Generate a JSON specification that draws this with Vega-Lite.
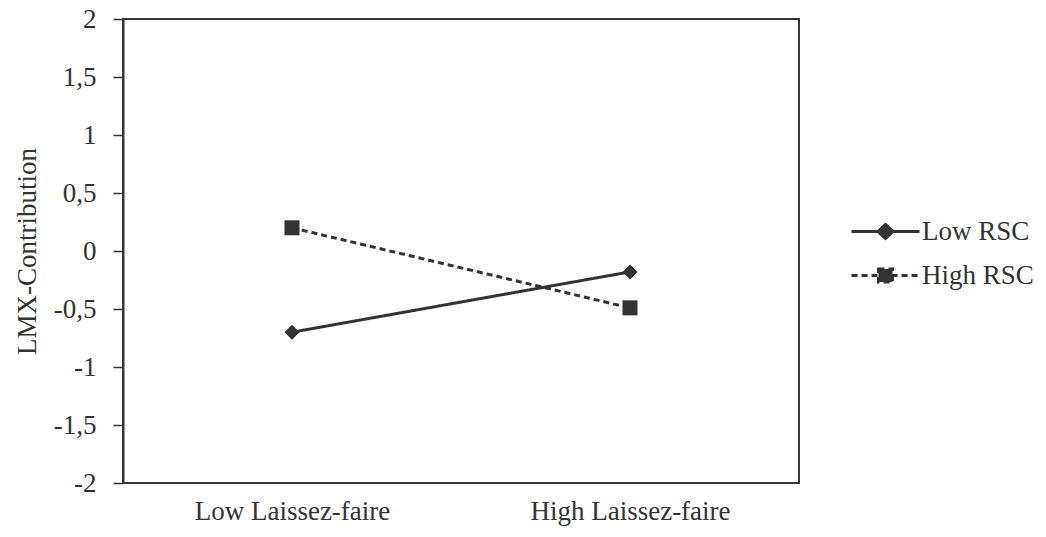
{
  "$schema": "https://vega.github.io/schema/vega-lite/v6.json",
  "width": 676,
  "height": 464,
  "autosize": {"type": "none"},
  "padding": {"left": 123, "top": 19, "right": 247, "bottom": 54},
  "background": "white",
  "config": {
    "font": "Liberation Serif",
    "view": {"stroke": "#363636", "strokeWidth": 2},
    "axis": {"grid": false, "labelFont": "Liberation Serif", "titleFont": "Liberation Serif", "labelColor": "#333", "titleColor": "#333", "labelLimit": 0}
  },
  "data": {
    "values": [
      {"laissez": "Low Laissez-faire", "rsc": "Low RSC", "value": -0.7},
      {"laissez": "High Laissez-faire", "rsc": "Low RSC", "value": -0.18},
      {"laissez": "Low Laissez-faire", "rsc": "High RSC", "value": 0.2},
      {"laissez": "High Laissez-faire", "rsc": "High RSC", "value": -0.49}
    ]
  },
  "encoding": {
    "x": {
      "field": "laissez",
      "type": "nominal",
      "scale": {"type": "point", "domain": ["Low Laissez-faire", "High Laissez-faire"], "padding": 0.5},
      "axis": {"title": null, "labelAngle": 0, "ticks": false, "domain": false, "labelFontSize": 27, "labelPadding": 15, "labelLimit": 0}
    },
    "y": {
      "field": "value",
      "type": "quantitative",
      "scale": {"domain": [-2, 2], "nice": false, "zero": false},
      "axis": {
        "title": "LMX-Contribution",
        "titleFontSize": 27,
        "titleFontWeight": "normal",
        "titlePadding": 12,
        "values": [-2, -1.5, -1, -0.5, 0, 0.5, 1, 1.5, 2],
        "labelExpr": "replace('' + datum.value, '.', ',')",
        "labelFontSize": 27,
        "labelPadding": 17,
        "tickSize": 10,
        "tickWidth": 1.5,
        "tickColor": "#333",
        "domainColor": "#363636",
        "domainWidth": 2
      }
    }
  },
  "layer": [
    {
      "mark": {"type": "line", "color": "#333", "strokeWidth": 3},
      "encoding": {
        "detail": {"field": "rsc"},
        "strokeDash": {
          "field": "rsc",
          "type": "nominal",
          "scale": {"domain": ["Low RSC", "High RSC"], "range": [[1, 0], [6, 4]]},
          "legend": {
            "title": null,
            "orient": "none",
            "legendX": 749,
            "legendY": 199,
            "padding": 0,
            "labelFontSize": 27,
            "labelFont": "Liberation Serif",
            "labelColor": "#333",
            "labelLimit": 0,
            "symbolSize": 100,
            "symbolStrokeWidth": 3,
            "symbolFillColor": "#333",
            "labelOffset": 23,
            "rowPadding": 16,
            "encoding": {
              "symbols": {
                "shape": {"value": {"expr": "datum.value == 'Low RSC' ? 'M-6.8,0L6.8,0M-1.5,0L0,-1.4L1.5,0L0,1.4Z' : 'M-6.8,0L6.8,0M-1.4,-1.3L1.4,-1.3L1.4,1.3L-1.4,1.3Z'"}},
                "fill": {"value": "#333"},
                "stroke": {"value": "#333"},
                "strokeWidth": {"value": 3}
              }
            }
          }
        }
      }
    },
    {
      "transform": [{"filter": "datum.rsc == 'Low RSC'"}],
      "mark": {"type": "point", "filled": true, "color": "#333", "opacity": 1, "size": 225, "shape": "diamond"}
    },
    {
      "transform": [{"filter": "datum.rsc == 'High RSC'"}],
      "mark": {"type": "point", "filled": true, "color": "#333", "opacity": 1, "size": 225, "shape": "square"}
    }
  ]
}
